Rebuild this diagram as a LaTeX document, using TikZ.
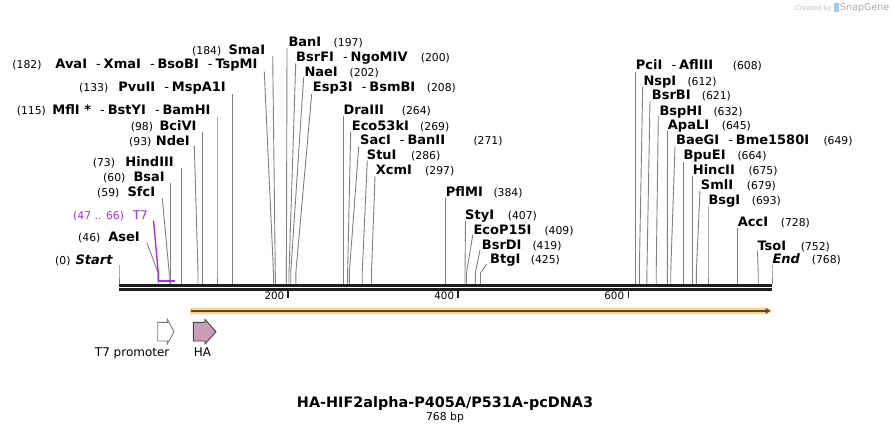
\documentclass[tikz,border=0pt]{standalone}
\usepackage{fontspec}
\setmainfont{DejaVu Sans}
\usetikzlibrary{arrows.meta}
\definecolor{cutgray}{RGB}{128,128,128}
\definecolor{tpurple}{RGB}{165,50,240}
\definecolor{hapink}{RGB}{204,155,184}
\definecolor{orng}{RGB}{255,212,138}
\definecolor{featline}{RGB}{88,72,52}
\definecolor{wm}{RGB}{190,190,190}
\definecolor{wmb}{RGB}{160,205,235}
\newcommand\dsh{\hspace{0.7em}{\mdseries -}\hspace{0.22em}}
\newcommand\cutln[4]{%
  \coordinate (#1-t) at (#2,#3);
  \coordinate (#1-m) at (#4,273);
  \coordinate (#1-b) at (#4,283.5);
  \draw[cut] (#1-t) -- (#1-m) -- (#1-b);}
\newcommand\Llab[6]{%
  \node[num,anchor=base west] (#1-n) at (#3,#2+4.5) {#4};
  \node[nm,anchor=base east] (#1-l) at (#5,#2+4.5) {#6};}
\newcommand\Rlab[6]{%
  \node[nm,anchor=base west] (#1-l) at (#3,#2+4.5) {#4};
  \node[num,anchor=base west] (#1-n) at (#5,#2+4.5) {#6};}
\begin{document}
\begin{tikzpicture}[x=1pt,y=-1pt,
  cut/.style={draw=cutgray,line width=0.9pt},
  nm/.style={inner sep=0pt,font=\fontsize{13}{15}\selectfont\bfseries},
  num/.style={inner sep=0pt,font=\fontsize{10.8}{12}\selectfont},
  reg/.style={inner sep=0pt,font=\fontsize{12}{14}\selectfont},
  bb/.style={line width=2.6pt,draw={rgb,255:red,30;green,30;blue,30}},
  tick/.style={line width=1.6pt,draw={rgb,255:red,30;green,30;blue,30}},
  ticklab/.style={inner sep=0pt,font=\fontsize{10.3}{12}\selectfont,anchor=base east},
  featarrow/.style={line width=0.9pt}]
\path[use as bounding box,fill=white] (0,0) rectangle (892,434);

% watermark
\node[inner sep=0pt,font=\fontsize{6.6}{8}\selectfont,text=wm,anchor=base west] (cb) at (795,10) {Created by};
\fill[wmb] (834.3,2.5) rectangle (838.8,12);
\node[inner sep=0pt,font=\fontsize{9.5}{11}\selectfont,text={rgb,255:red,165;green,170;blue,178},anchor=base west] (sg) at (840,10.5) {SnapGene};

% backbone
\coordinate (bbl1) at (119,285.2); \coordinate (bbr1) at (772.3,285.2);
\coordinate (bbl2) at (119,289.3); \coordinate (bbr2) at (772.3,289.3);
\draw[bb] (bbl1) -- (bbr1);
\draw[bb] (bbl2) -- (bbr2);

% ticks
\coordinate (k2a) at (288,289); \coordinate (k2b) at (288,298);
\coordinate (k4a) at (458,289); \coordinate (k4b) at (458,298);
\coordinate (k6a) at (628.5,289); \coordinate (k6b) at (628.5,298);
\draw[tick] (k2a) -- (k2b); \draw[tick] (k4a) -- (k4b); \draw[tick] (k6a) -- (k6b);
\node[ticklab] (k2l) at (284.5,299.3) {200};
\node[ticklab] (k4l) at (454.3,299.3) {400};
\node[ticklab] (k6l) at (624.3,299.3) {600};

% left-side sites
\Llab{start}{259.5}{55}{(0)}{112.7}{{\itshape Start}}
\cutln{start}{119}{265}{119}
\Llab{ase}{237}{78}{(46)}{140}{AseI}
\cutln{ase}{147}{243}{158.1}
\Llab{sfc}{192}{97}{(59)}{155.3}{SfcI}
\cutln{sfc}{162.3}{198.3}{169.2}
\Llab{bsa}{176.5}{103}{(60)}{165}{BsaI}
\cutln{bsa}{170.2}{183.3}{170.2}
\Llab{hind}{162}{92.7}{(73)}{174}{HindIII}
\cutln{hind}{181.3}{168.3}{181.3}
\Llab{nde}{141}{129}{(93)}{190}{NdeI}
\cutln{nde}{194.3}{146}{198}
\Llab{bci}{125.7}{130.7}{(98)}{196.7}{BciVI}
\cutln{bci}{202.3}{131.7}{202.3}
\Llab{bam}{110}{16.7}{(115)}{210.7}{MflI *\dsh BstYI\dsh BamHI}
\cutln{bam}{217}{117.3}{217}
\Llab{pvu}{87.3}{79}{(133)}{226}{PvuII\dsh MspA1I}
\cutln{pvu}{232.2}{94}{232.2}
\Llab{ava}{64.3}{12.3}{(182)}{257.7}{AvaI\dsh XmaI\dsh BsoBI\dsh TspMI}
\cutln{ava}{264.3}{71.7}{273.5}
\Llab{sma}{50}{192}{(184)}{265.3}{SmaI}
\cutln{sma}{272.7}{56}{275.3}

% T7 feature (purple)
\node[num,text=tpurple,anchor=base west] (t7-n) at (73,219.5) {(47 .. 66)};
\node[reg,text=tpurple,anchor=base east] (t7-l) at (148,219.5) {T7};
\coordinate (t7-t) at (153.5,220.5);
\coordinate (t7-m) at (158.4,274);
\coordinate (t7-b) at (158.4,281);
\coordinate (t7-e) at (175,281);
\draw[tpurple,line width=1.4pt] (t7-t) -- (t7-m) -- ([yshift=1pt]t7-b);
\draw[tpurple,line width=2.2pt] ([xshift=-0.7pt]t7-b) -- (t7-e);

% right-side sites
\Rlab{ban}{42.3}{288.3}{BanI}{333.5}{(197)}
\cutln{ban}{287}{48.3}{286.4}
\Rlab{bsrf}{56.7}{296}{BsrFI\dsh NgoMIV}{420.7}{(200)}
\cutln{bsrf}{295.7}{63.3}{289}
\Rlab{nae}{71.7}{304.3}{NaeI}{349.5}{(202)}
\cutln{nae}{303.7}{77.3}{290.7}
\Rlab{esp}{86.7}{312.7}{Esp3I\dsh BsmBI}{426.7}{(208)}
\cutln{esp}{311.7}{94}{295.8}
\Rlab{dra}{110}{343.3}{DraIII}{401.7}{(264)}
\cutln{dra}{343.2}{116}{343.2}
\Rlab{ecok}{126}{351.7}{Eco53kI}{420}{(269)}
\cutln{ecok}{350.7}{131.7}{347.6}
\Rlab{sac}{140}{360}{SacI\dsh BanII}{473.3}{(271)}
\cutln{sac}{358.7}{146.7}{349.3}
\Rlab{stu}{155.3}{366.7}{StuI}{411}{(286)}
\cutln{stu}{367.3}{160.5}{362.2}
\Rlab{xcm}{170}{375.7}{XcmI}{425}{(297)}
\cutln{xcm}{375}{176}{371.5}
\Rlab{pfl}{191.7}{445.7}{PflMI}{493.3}{(384)}
\cutln{pfl}{445.6}{198.3}{445.6}
\Rlab{sty}{215}{465}{StyI}{507.7}{(407)}
\cutln{sty}{465.5}{220.7}{465}
\Rlab{ecop}{230}{473.3}{EcoP15I}{544.3}{(409)}
\cutln{ecop}{472.7}{235}{466.5}
\Rlab{bsrd}{245}{481.7}{BsrDI}{532.3}{(419)}
\cutln{bsrd}{480}{250}{475.3}
\Rlab{btg}{259.3}{490}{BtgI}{530.7}{(425)}
\cutln{btg}{486.7}{264.3}{480.5}
\Rlab{pci}{65}{635.7}{PciI\dsh AflIII}{732.7}{(608)}
\cutln{pci}{635.8}{71.7}{635.8}
\Rlab{nsp}{80.7}{643.3}{NspI}{687.3}{(612)}
\cutln{nsp}{642.7}{86.7}{639.3}
\Rlab{bsrb}{95}{651.7}{BsrBI}{701.7}{(621)}
\cutln{bsrb}{650}{101}{646.9}
\Rlab{bsph}{110.7}{659.3}{BspHI}{713.3}{(632)}
\cutln{bsph}{658.3}{116}{656.2}
\Rlab{apa}{125}{667.7}{ApaLI}{721.7}{(645)}
\cutln{apa}{667.5}{130.7}{667.3}
\Rlab{bae}{140}{676}{BaeGI\dsh Bme1580I}{823.3}{(649)}
\cutln{bae}{675}{146.7}{670.7}
\Rlab{bpu}{155}{683.3}{BpuEI}{737.3}{(664)}
\cutln{bpu}{683.4}{161.7}{683.4}
\Rlab{hinc}{170}{692.7}{HincII}{748.3}{(675)}
\cutln{hinc}{692.5}{176}{692.5}
\Rlab{sml}{185}{700.7}{SmlI}{746.7}{(679)}
\cutln{sml}{700}{190.7}{696.3}
\Rlab{bsg}{200}{708.3}{BsgI}{751.7}{(693)}
\cutln{bsg}{708}{206}{708}
\Rlab{acc}{222.3}{737.7}{AccI}{780.7}{(728)}
\cutln{acc}{737.5}{227.7}{737.5}
\Rlab{tso}{245.7}{757.3}{TsoI}{800.7}{(752)}
\cutln{tso}{757.5}{250.7}{758.2}
\Rlab{fin}{259.3}{772.3}{{\itshape End}}{811.7}{(768)}
\cutln{fin}{772}{265}{772}

% long feature arrow
\fill[orng] (190,307.6) -- (766.5,307.6) -- (773,310.9) -- (766.5,314.2) -- (190,314.2) -- cycle;
\coordinate (fa-s) at (190.5,310.9);
\coordinate (fa-e) at (770.5,310.9);
\draw[featline,line width=1.7pt,-{Triangle[length=5pt,width=5.5pt]}] (fa-s) -- (fa-e);

% T7 promoter and HA features
\draw[featarrow,draw={rgb,255:red,120;green,120;blue,120},fill=white]
  (157.7,322.3) -- (167.3,322.3) -- (167.3,319.3) -- (174,331.7) -- (167.3,344) -- (167.3,341) -- (157.7,341) -- cycle;
\draw[featarrow,draw={rgb,255:red,70;green,70;blue,70},fill=hapink]
  (193.3,322.3) -- (205,322.3) -- (205,319.3) -- (216,331.7) -- (205,344) -- (205,341) -- (193.3,341) -- cycle;
\node[reg,anchor=base] (t7p-l) at (132.2,356.5) {T7 promoter};
\node[reg,anchor=base] (ha-l) at (202.5,356.5) {HA};

% title
\node[inner sep=0pt,font=\fontsize{14.4}{17}\selectfont\bfseries,anchor=base] (title) at (445,407.8) {HA-HIF2alpha-P405A/P531A-pcDNA3};
\node[inner sep=0pt,font=\fontsize{10.8}{12}\selectfont,anchor=base] (size) at (445,420.8) {768 bp};
\end{tikzpicture}
\end{document}
